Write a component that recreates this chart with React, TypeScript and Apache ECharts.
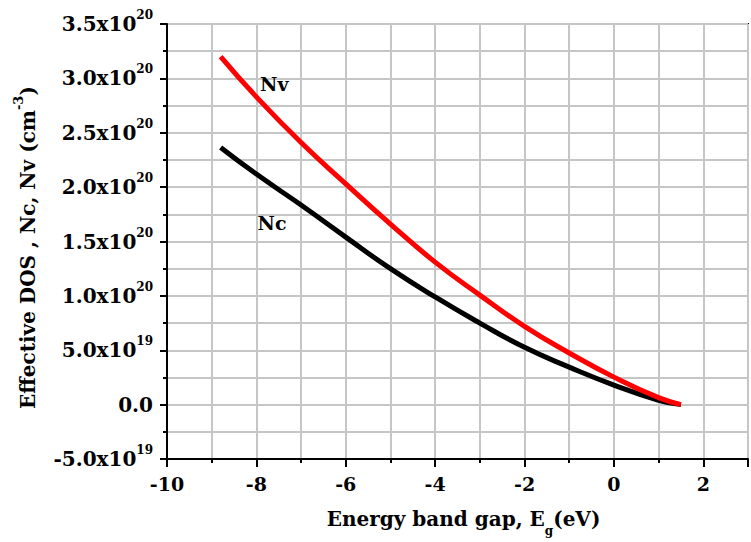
import React, { useEffect, useRef } from "react";
import * as echarts from "echarts";

const energyGap = [-8.8, -8, -7, -6, -5, -4, -3, -2, -1, 0, 1, 1.5];
const nvValues = [3.2e20, 2.83e20, 2.41e20, 2.03e20, 1.66e20, 1.31e20, 1.007e20, 0.72e20, 0.475e20, 0.253e20, 0.064e20, 0.0];
const ncValues = [2.365e20, 2.12e20, 1.835e20, 1.54e20, 1.25e20, 0.99e20, 0.75e20, 0.527e20, 0.345e20, 0.18e20, 0.04e20, 0.0];
const xTickLabels = ["-10", "-8", "-6", "-4", "-2", "0", "2"];
const nvLabel = { text: "Nv", x: -7.6, y: 2.95e20 };
const ncLabel = { text: "Nc", x: -7.65, y: 1.67e20 };

const FONT = "DejaVu Serif";
const GRID = "#c6c6c6";

function yFormatter(v: number): string {
  if (Math.abs(v) < 1e-6) return "{m|0.0}";
  const e = Math.floor(Math.log10(Math.abs(v)) + 1e-9);
  const m = v / Math.pow(10, e);
  return "{m|" + m.toFixed(1) + "x10}{s|" + e + "}";
}

export default function App() {
  const ref = useRef<HTMLDivElement>(null);
  useEffect(() => {
    if (!ref.current) return;
    const chart = echarts.init(ref.current, null, { renderer: "svg" });
    const pair = (xs: number[], ys: number[]) => xs.map((x, i) => [x, ys[i]]);
    const labelPoint = (l: { text: string; x: number; y: number }) => ({
      symbol: "circle",
      symbolSize: 0,
      silent: true,
      data: [
        {
          coord: [l.x, l.y],
          label: {
            show: true,
            position: "inside",
            formatter: l.text,
            color: "#000",
            fontFamily: FONT,
            fontWeight: "bold",
            fontSize: 19,
          },
        },
      ],
    });
    chart.setOption({
      animation: false,
      grid: {
        left: 167,
        top: 24,
        bottom: 80,
        right: -9,
        show: true,
        borderColor: "#000",
        borderWidth: 2,
        backgroundColor: "transparent",
      },
      xAxis: {
        type: "value",
        min: -10,
        max: 3,
        interval: 2,
        name: "Energy band gap, E{sub|g}(eV)",
        nameLocation: "middle",
        nameGap: 42,
        nameTextStyle: {
          color: "#000",
          fontFamily: FONT,
          fontWeight: "bold",
          fontSize: 20,
          padding: [0, 0, 0, 12],
          rich: {
            sub: { fontSize: 12, fontFamily: FONT, fontWeight: "bold", color: "#000", padding: [24, 0, 0, 0] },
          },
        },
        axisLine: { show: true, onZero: false, lineStyle: { color: "#000", width: 2 } },
        axisTick: { show: true, inside: false, length: 8, lineStyle: { color: "#000", width: 2 } },
        minorTick: { show: true, splitNumber: 2, length: 4, lineStyle: { color: "#000", width: 2 } },
        splitLine: { show: true, lineStyle: { color: GRID, width: 2 } },
        minorSplitLine: { show: true, lineStyle: { color: GRID, width: 2 } },
        axisLabel: {
          color: "#000",
          fontFamily: FONT,
          fontWeight: "bold",
          fontSize: 19,
          margin: 15,
          formatter: (v: number) => {
            const s = String(Math.round(v));
            return xTickLabels.includes(s) ? s : "";
          },
        },
      },
      yAxis: {
        type: "value",
        min: -0.5e20,
        max: 3.5e20,
        interval: 0.5e20,
        name: "Effective DOS , Nc, Nv (cm{s|-3})",
        nameLocation: "middle",
        nameGap: 124,
        nameTextStyle: {
          color: "#000",
          fontFamily: FONT,
          fontWeight: "bold",
          fontSize: 20,
          padding: [0, 12, 0, 0],
          rich: {
            s: { fontSize: 13, fontFamily: FONT, fontWeight: "bold", color: "#000", padding: [0, 0, 18, 0] },
          },
        },
        axisLine: { show: true, onZero: false, lineStyle: { color: "#000", width: 2 } },
        axisTick: { show: true, inside: false, length: 7, lineStyle: { color: "#000", width: 2 } },
        minorTick: { show: true, splitNumber: 2, length: 4, lineStyle: { color: "#000", width: 2 } },
        splitLine: { show: true, lineStyle: { color: GRID, width: 2 } },
        minorSplitLine: { show: true, lineStyle: { color: GRID, width: 2 } },
        axisLabel: {
          color: "#000",
          margin: 14,
          formatter: yFormatter,
          rich: {
            m: { fontSize: 20, fontFamily: FONT, fontWeight: "bold", color: "#000" },
            s: { fontSize: 12, fontFamily: FONT, fontWeight: "bold", color: "#000", padding: [0, 0, 18, 0] },
          },
        },
      },
      series: [
        {
          name: "Nc",
          type: "line",
          data: pair(energyGap, ncValues),
          smooth: 0.5,
          showSymbol: false,
          symbol: "none",
          lineStyle: { color: "#000", width: 5 },
          markPoint: labelPoint(ncLabel),
        },
        {
          name: "Nv",
          type: "line",
          data: pair(energyGap, nvValues),
          smooth: 0.5,
          showSymbol: false,
          symbol: "none",
          lineStyle: { color: "#ff0000", width: 5 },
          markPoint: labelPoint(nvLabel),
        },
      ],
    });
    return () => chart.dispose();
  }, []);
  return (
    <div
      ref={ref}
      style={{ position: "fixed", left: 0, top: 0, width: 751, height: 542, background: "#fff" }}
    />
  );
}
